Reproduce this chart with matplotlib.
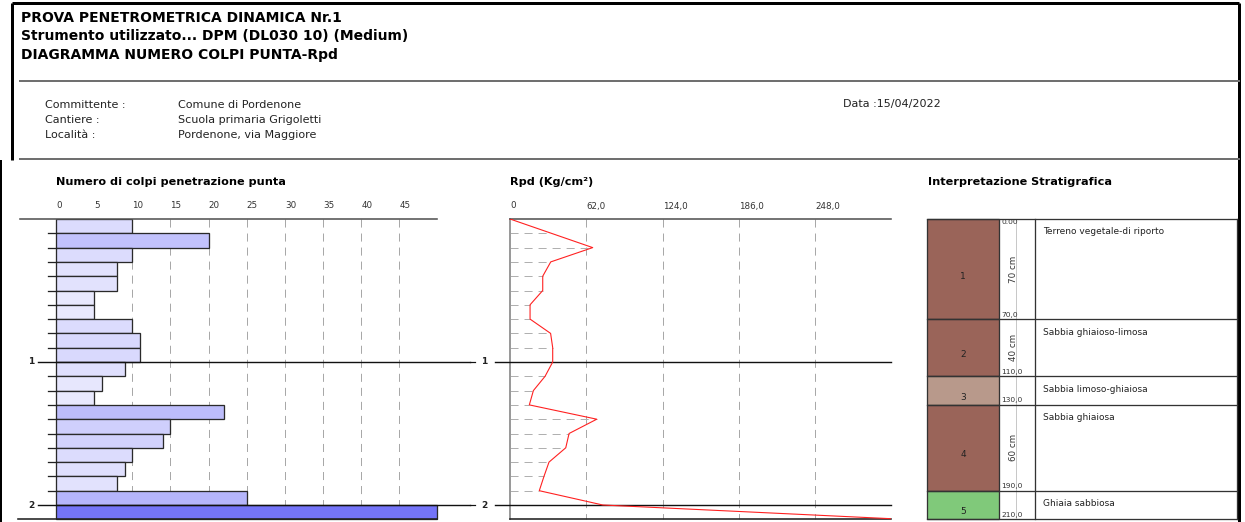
import matplotlib
matplotlib.use("Agg")
import matplotlib.pyplot as plt
from matplotlib.colors import LinearSegmentedColormap
from matplotlib.patches import Rectangle
import numpy as np

plt.rcParams["font.family"] = ["DejaVu Sans"]
plt.rcParams["lines.scale_dashes"] = False

# ---------------- data ----------------
step_m = 0.1
blows = [10, 20, 10, 8, 8, 5, 5, 10, 11, 11, 9, 6, 5, 22, 15, 14, 10, 9, 8, 25, 50]
blow_ticks = [0, 5, 10, 15, 20, 25, 30, 35, 40, 45]

rpd = [0.0, 33.6, 67.2, 33.1, 26.6, 26.6, 16.3, 16.3, 33.0, 34.7, 34.7,
       28.5, 19.0, 15.7, 70.5, 48.0, 45.3, 31.7, 27.6, 23.8, 75.4, 320.0]
rpd_ticks = [0, 62, 124, 186, 248]
rpd_tick_labels = ["0", "62,0", "124,0", "186,0", "248,0"]

depth_labels = [1, 2]

layer_ids = [1, 2, 3, 4, 5]
layer_top_cm = [0, 70, 110, 130, 190]
layer_bot_cm = [70, 110, 130, 190, 210]
layer_names = ["Terreno vegetale-di riporto", "Sabbia ghiaioso-limosa",
               "Sabbia limoso-ghiaiosa", "Sabbia ghiaiosa", "Ghiaia sabbiosa"]
layer_colors = ["#9a6459", "#9a6459", "#b8998b", "#9a6459", "#80c97a"]

title_lines = ["PROVA PENETROMETRICA DINAMICA Nr.1",
               "Strumento utilizzato... DPM (DL030 10) (Medium)",
               "DIAGRAMMA NUMERO COLPI PUNTA-Rpd"]
info_keys = ["Committente :", "Cantiere :", "Località :"]
info_vals = ["Comune di Pordenone", "Scuola primaria Grigoletti", "Pordenone, via Maggiore"]
date_text = "Data :15/04/2022"

# ---------------- page layout (pixels) ----------------
W, H = 1245, 522
fig = plt.figure(figsize=(W / 100, H / 100), dpi=100)
fig.patch.set_facecolor("white")

page = fig.add_axes([0, 0, 1, 1])
page.set_xlim(0, W)
page.set_ylim(H, 0)
page.axis("off")

PT = 0.72  # points per pixel at 100 dpi

# frame
page.plot([12, 1239], [3, 3], color="black", lw=3 * PT, solid_capstyle="butt")
page.plot([1239, 1239], [3, H], color="black", lw=3 * PT, solid_capstyle="butt")
page.plot([12, 12], [3, 160], color="black", lw=3 * PT, solid_capstyle="butt")
page.plot([1, 1], [160, H], color="black", lw=2 * PT, solid_capstyle="butt")
for yy in (81, 159):
    page.plot([20, 1239], [yy, yy], color="#707070", lw=2 * PT)

for i, t in enumerate(title_lines):
    page.text(21, 18 + i * 18.5, t, fontsize=10, fontweight="bold", va="center", ha="left")
for i, (k, v) in enumerate(zip(info_keys, info_vals)):
    page.text(45, 105 + i * 15, k, fontsize=8, va="center", ha="left", color="#222")
    page.text(178, 105 + i * 15, v, fontsize=8, va="center", ha="left", color="#222")
page.text(843, 104, date_text, fontsize=8, va="center", ha="left", color="#222")

page.text(56, 182, "Numero di colpi penetrazione punta", fontsize=8.1, fontweight="bold", va="center")
page.text(510, 182, "Rpd (Kg/cm²)", fontsize=8.1, fontweight="bold", va="center")
page.text(928, 182, "Interpretazione Stratigrafica", fontsize=8.1, fontweight="bold", va="center")

Y0 = 219.0      # pixel row of depth 0
PPM = 143.0     # pixels per metre
D_MAX = (H - Y0) / PPM


def px_axes(x0, x1):
    ax = fig.add_axes([x0 / W, 0, (x1 - x0) / W, (H - Y0) / H])
    ax.set_ylim(D_MAX, 0)
    ax.axis("off")
    return ax


n = len(blows)
bar_top = [i * step_m for i in range(n)]
bar_mid = [t + step_m / 2 for t in bar_top]
z_end = n * step_m
lbl_d = -13 / PPM   # tick-label row above the axis

# ---------------- blow-count panel ----------------
K1, X01 = 7.63, 56.0
axb = px_axes(18, 470)
axb.set_xlim((18 - X01) / K1, (470 - X01) / K1)
xmax_b = 50
for t in blow_ticks[1:]:
    axb.plot([t, t], [0, z_end], color="#a8a8a8", lw=1 * PT, dashes=(5.8, 4.3), zorder=1, clip_on=False)
cmap = LinearSegmentedColormap.from_list("blows", ["#f6f6fe", "#7474f8"])
axb.barh(bar_mid, blows, height=step_m, left=0,
         color=[cmap(v / 50) for v in blows], edgecolor="#2a2a2a", lw=1.3 * PT, zorder=3)
for i in range(1, n):
    d = round(i * step_m, 3)
    if d in depth_labels:
        continue
    axb.plot([(48 - X01) / K1, 0], [d, d], color="#222", lw=1.3 * PT, zorder=4, clip_on=False)
axb.plot([(20 - X01) / K1, xmax_b], [0, 0], color="#555", lw=1.6 * PT, zorder=4, clip_on=False)
axb.plot([(18 - X01) / K1, xmax_b], [z_end, z_end], color="#222", lw=1.6 * PT, zorder=4, clip_on=False)
for d in depth_labels:
    axb.plot([(38 - X01) / K1, (470 - X01) / K1], [d, d], color="#111", lw=1.4 * PT, zorder=4, clip_on=False)
    axb.text((31 - X01) / K1, d, str(d), fontsize=6.5, fontweight="bold", ha="center", va="center", color="#222")
for t in blow_ticks:
    axb.text(t, lbl_d, str(t), fontsize=6.3, ha="left", va="center", color="#333", clip_on=False)

# ---------------- Rpd panel ----------------
K2, X02 = 76.3 / 62.0, 510.0
axr = px_axes(470, 891)
axr.set_xlim((470 - X02) / K2, (891 - X02) / K2)
xr_end = (891 - X02) / K2
for t in rpd_ticks[1:]:
    axr.plot([t, t], [0, z_end], color="#a8a8a8", lw=1 * PT, dashes=(5.8, 4.3), zorder=1, clip_on=False)
rpd_depth = [i * step_m for i in range(len(rpd))]
for d, v in zip(rpd_depth[1:-1], rpd[1:-1]):
    if round(d, 3) in depth_labels:
        continue
    axr.plot([0, v], [d, d], color="#b0b0b0", lw=1 * PT, dashes=(5.8, 4.3), zorder=1, clip_on=False)
axr.plot([0, 0], [0, z_end], color="#9a9a9a", lw=2 * PT, zorder=2, clip_on=False)
axr.plot([0, xr_end], [0, 0], color="#555", lw=1.6 * PT, zorder=4, clip_on=False)
axr.plot([0, xr_end], [z_end, z_end], color="#222", lw=1.6 * PT, zorder=4, clip_on=False)
for d in depth_labels:
    axr.plot([(495 - X02) / K2, xr_end], [d, d], color="#111", lw=1.4 * PT, zorder=4, clip_on=False)
    axr.plot([(470 - X02) / K2, (475 - X02) / K2], [d, d], color="#111", lw=1.2 * PT, zorder=4, clip_on=False)
    axr.text((484 - X02) / K2, d, str(d), fontsize=6.5, fontweight="bold", ha="center", va="center", color="#222")
axr.plot(rpd, rpd_depth, color="#ff2020", lw=1.1 * PT, zorder=5, clip_on=True)
for t, lab in zip(rpd_ticks, rpd_tick_labels):
    axr.text(t, lbl_d, lab, fontsize=6.3, ha="left", va="center", color="#333", clip_on=False)

# ---------------- stratigraphy panel ----------------
axs = px_axes(920, 1242)
axs.set_xlim(920, 1242)
XC0, XC1, XD, XT0, XT1 = 927, 999, 1016, 1035, 1237
for lid, top, bot, name, col in zip(layer_ids, layer_top_cm, layer_bot_cm, layer_names, layer_colors):
    zt, zb = top / 100, bot / 100
    axs.add_patch(Rectangle((XC0, zt), XC1 - XC0, zb - zt, facecolor=col, edgecolor="#333",
                            lw=1.3 * PT, zorder=2, clip_on=False))
    axs.plot([XC0, XT1], [zb, zb], color="#333", lw=1.3 * PT, zorder=3, clip_on=False)
    axs.text((XC0 + XC1) / 2, (zt + zb) / 2 + 7 / PPM, str(lid), fontsize=6.5, ha="center",
             va="center", color="#222", zorder=4)
    axs.text(1001, zb - 1.5 / PPM, f"{bot:.1f}".replace(".", ","), fontsize=5.4, ha="left",
             va="bottom", color="#333", zorder=4)
    thick = bot - top
    if thick >= 40:
        axs.text(1013, (zt + zb) / 2, f"{thick} cm", fontsize=6.3, rotation=90, ha="center",
                 va="center", color="#333", zorder=4)
    axs.text(1043, zt + 13 / PPM, name, fontsize=6.5, ha="left", va="center", color="#222", zorder=4)
axs.text(1001, 0.5 / PPM, "0.00", fontsize=5.4, ha="left", va="top", color="#333", zorder=4)
z_bot = layer_bot_cm[-1] / 100
axs.plot([XC0, XT1], [0, 0], color="#333", lw=1.3 * PT, zorder=3, clip_on=False)
axs.plot([XD, XD], [0, z_bot], color="#c8c8c8", lw=1 * PT, zorder=1, clip_on=False)
for xx in (XT0, XT1):
    axs.plot([xx, xx], [0, z_bot], color="#333", lw=1.3 * PT, zorder=3, clip_on=False)

fig.savefig("out.png", dpi=100, facecolor="white")
